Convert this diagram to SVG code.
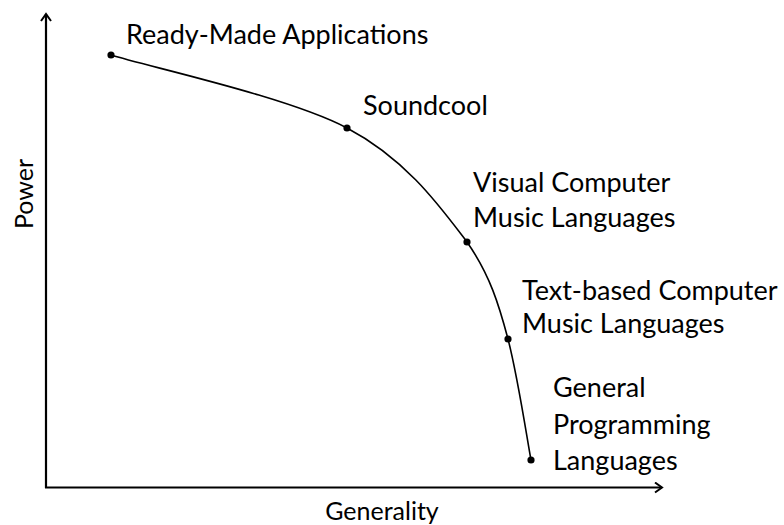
<svg xmlns="http://www.w3.org/2000/svg" width="784" height="525" viewBox="0 0 784 525">
<defs>
<marker id="arr" viewBox="0 0 12 12" refX="10" refY="6" markerWidth="12" markerHeight="12" markerUnits="userSpaceOnUse" orient="auto">
<path d="M3,1 L10,6 L3,11" fill="none" stroke="#000" stroke-width="2"/>
</marker>
<style>
.lbl{font-family:Lato,"Liberation Sans",sans-serif;font-size:27px;fill:#000}
.ax{font-family:Lato,"Liberation Sans",sans-serif;font-size:25px;fill:#000}
.axis{stroke:#000;stroke-width:2.2;fill:none}
.curve{stroke:#000;stroke-width:1.6;fill:none}
.dot{fill:#000}
</style>
</defs>
<rect width="784" height="525" fill="#fff"/>
<g id="connectors">
<line class="axis" x1="46" y1="488" x2="46" y2="14" marker-end="url(#arr)"/>
<line class="axis" x1="45" y1="487.5" x2="662" y2="487.5" marker-end="url(#arr)"/>
<path class="curve" d="M111,55 C150.3,67.2 287.7,96.8 347,128 C406.3,159.2 440.2,206.8 467,242 C490,275 499,305 508,339 C518,378 527.2,439.8 531,460"/>
</g>
<g id="axis-labels">
<text class="ax" transform="translate(33,194) rotate(-90)" text-anchor="middle">Power</text>
<text class="ax" x="382" y="520" text-anchor="middle">Generality</text>
</g>
<g id="ready-made">
<circle class="dot" cx="111" cy="55" r="3.6"/>
<text class="lbl" x="126" y="44">Ready-Made Applications</text>
</g>
<g id="soundcool">
<circle class="dot" cx="347" cy="128" r="3.6"/>
<text class="lbl" x="363" y="115">Soundcool</text>
</g>
<g id="visual">
<circle class="dot" cx="467" cy="242" r="3.6"/>
<text class="lbl" x="473" y="192">Visual Computer</text>
<text class="lbl" x="473" y="227">Music Languages</text>
</g>
<g id="text-based">
<circle class="dot" cx="508" cy="339" r="3.6"/>
<text class="lbl" x="522" y="300">Text-based Computer</text>
<text class="lbl" x="522" y="333">Music Languages</text>
</g>
<g id="general">
<circle class="dot" cx="531" cy="460" r="3.6"/>
<text class="lbl" x="553" y="397">General</text>
<text class="lbl" x="553" y="434">Programming</text>
<text class="lbl" x="553" y="470">Languages</text>
</g>
</svg>
